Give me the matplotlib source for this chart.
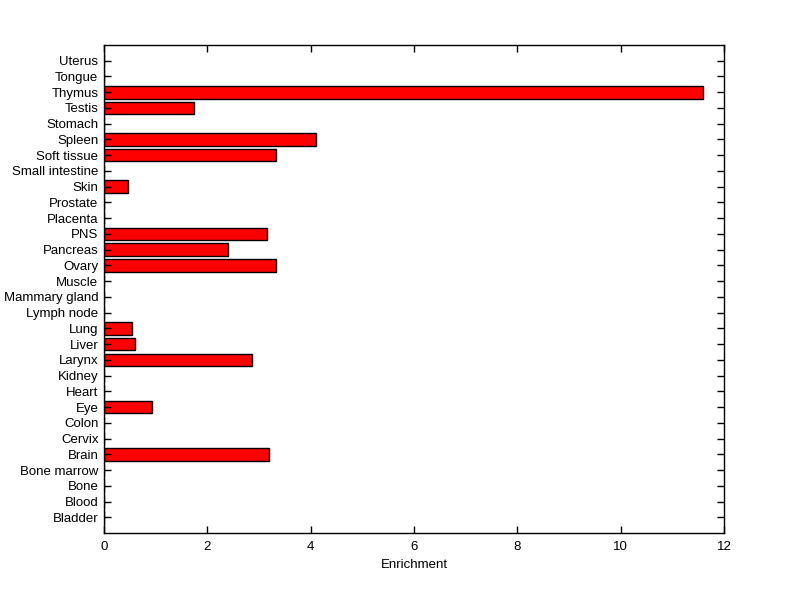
import matplotlib
matplotlib.use('Agg')
from matplotlib import pyplot as plt
import numpy as np

tissues = ['Bladder', 'Blood', 'Bone', 'Bone marrow', 'Brain', 'Cervix', 'Colon', 'Eye',
           'Heart', 'Kidney', 'Larynx', 'Liver', 'Lung', 'Lymph node', 'Mammary gland',
           'Muscle', 'Ovary', 'Pancreas', 'PNS', 'Placenta', 'Prostate', 'Skin',
           'Small intestine', 'Soft tissue', 'Spleen', 'Stomach', 'Testis', 'Thymus',
           'Tongue', 'Uterus']
enrichment = [0, 0, 0, 0, 3.20, 0, 0, 0.93,
              0, 0, 2.87, 0.60, 0.54, 0, 0,
              0, 3.32, 2.40, 3.16, 0, 0, 0.47,
              0, 3.33, 4.11, 0, 1.74, 11.60,
              0, 0]

plt.rcParams['font.family'] = ['Liberation Sans', 'DejaVu Sans']
fig = plt.figure(figsize=(8, 5.99), dpi=100)
ax = fig.add_axes([104 / 800, 1 - 533 / 599, 620 / 800, 488 / 599])

pos = np.arange(1, len(tissues) + 1)
ax.barh(pos, enrichment, height=0.8, color='#ff0000', edgecolor='black', linewidth=1)

ax.set_xlim(0, 12)
ax.set_ylim(0, len(tissues) + 1)
ax.set_xticks(range(0, 13, 2))
ax.set_yticks(pos)
ax.set_yticklabels(tissues)
ax.set_xlabel('Enrichment', fontsize=9.5, labelpad=4)
ax.tick_params(direction='in', top=True, right=True, length=5, width=1,
               labelsize=9.5)
ax.tick_params(axis='x', pad=6)
ax.tick_params(axis='y', pad=4)
for s in ax.spines.values():
    s.set_linewidth(1)

fig.savefig('out.png', dpi=100)
